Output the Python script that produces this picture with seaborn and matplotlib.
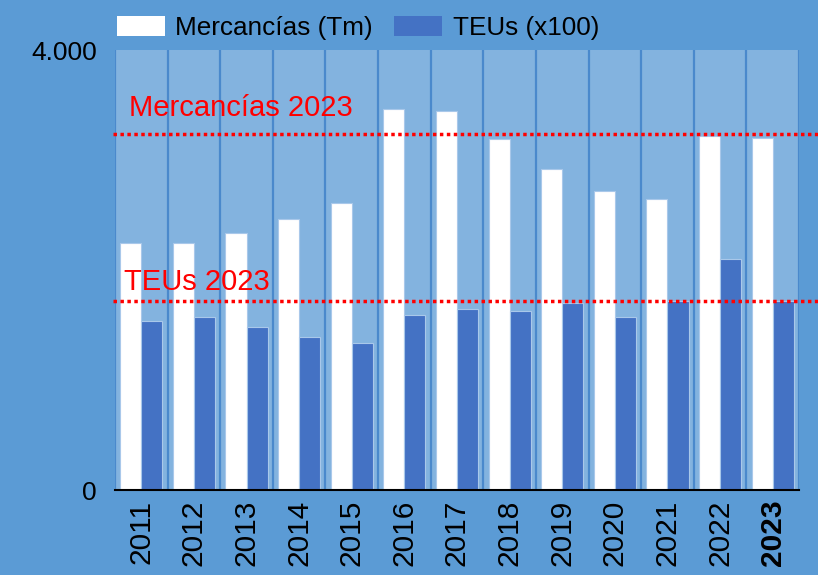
import pandas as pd
import seaborn as sns
import matplotlib.pyplot as plt
from matplotlib.patches import Patch

# --- DATA ---
years = ["2011", "2012", "2013", "2014", "2015", "2016", "2017",
         "2018", "2019", "2020", "2021", "2022", "2023"]
mercancias = [2245, 2245, 2336, 2464, 2609, 3464, 3445, 3191, 2918, 2718, 2645, 3221, 3203]
teus = [1536, 1573, 1482, 1391, 1336, 1591, 1645, 1627, 1700, 1573, 1721, 2100, 1715]
series_names = ["Mercancías (Tm)", "TEUs (x100)"]
ref_mercancias = 3236
ref_teus = 1718

df = pd.DataFrame({
    "Año": years * 2,
    "Valor": mercancias + teus,
    "Serie": [series_names[0]] * len(years) + [series_names[1]] * len(years),
})

# --- STYLE ---
bg_outer = "#5B9BD5"
bg_plot = "#83B3DF"
grid_col = "#4A89CC"
palette = {series_names[0]: "#FFFFFF", series_names[1]: "#4472C4"}

sns.set_style("white")
plt.rcParams["font.family"] = ["Liberation Sans", "DejaVu Sans"]
plt.rcParams["text.color"] = "black"
plt.rcParams["xtick.color"] = "black"
plt.rcParams["ytick.color"] = "black"

fig = plt.figure(figsize=(8.18, 5.75), dpi=100, facecolor=bg_outer)
ax = fig.add_axes([115 / 818, 85 / 575, 684 / 818, 440 / 575])
ax.set_facecolor(bg_plot)

sns.barplot(data=df, x="Año", y="Valor", hue="Serie", palette=palette, saturation=1,
            width=0.8, edgecolor="#A9C8EA", linewidth=0.8, ax=ax, legend=False)

# --- AXES ---
ax.set_ylim(0, 4000)
ax.set_xlim(-0.5, len(years) - 0.5)
ax.set_yticks([0, 4000])
ax.set_yticklabels(["0", "4.000"])
ax.set_xlabel("")
ax.set_ylabel("")
ax.tick_params(axis="y", length=0, pad=13, labelsize=19)
ax.tick_params(axis="x", length=0, pad=7, labelsize=21.5, labelrotation=90)
for lab in ax.get_xticklabels():
    if lab.get_text() == "2023":
        lab.set_fontweight("bold")

# vertical separators between categories
ax.set_xticks([i - 0.5 for i in range(len(years) + 1)], minor=True)
ax.grid(which="minor", axis="x", color=grid_col, linewidth=1.6)
ax.set_axisbelow(True)

for side in ["left", "right", "top"]:
    ax.spines[side].set_visible(False)
ax.spines["bottom"].set_color("black")
ax.spines["bottom"].set_linewidth(1.5)

# --- REFERENCE LINES ---
for val in [ref_mercancias, ref_teus]:
    ax.axhline(val, xmin=-0.003, xmax=1.03, color="red", linestyle=(0, (1, 1)),
               linewidth=2.5, clip_on=False, zorder=5)
ax.text(-0.23, ref_mercancias + 105, "Mercancías 2023", color="red", fontsize=21,
        va="bottom", ha="left")
ax.text(-0.32, ref_teus + 50, "TEUs 2023", color="red", fontsize=21,
        va="bottom", ha="left")

# --- LEGEND ---
handles = [Patch(facecolor=palette[s], edgecolor="none") for s in series_names]
fig.legend(handles, series_names, loc="upper left", bbox_to_anchor=(101 / 818, 1.0),
           ncol=2, frameon=False, fontsize=18.8, handlelength=1.85, handleheight=0.85,
           handletextpad=0.4, columnspacing=0.8, borderaxespad=0.2)

fig.savefig("out.png", dpi=100, facecolor=bg_outer)
